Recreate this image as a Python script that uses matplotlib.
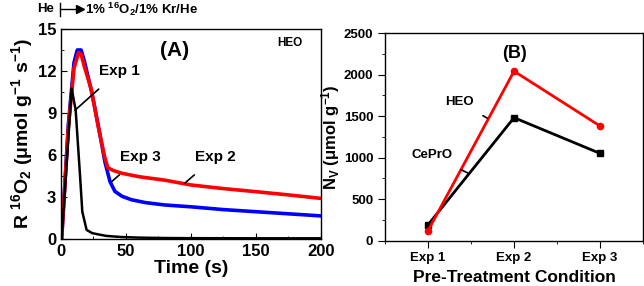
import matplotlib
matplotlib.use("Agg")
import matplotlib.pyplot as plt
from matplotlib.lines import Line2D
from matplotlib.ticker import MultipleLocator

plt.rcParams['font.family'] = ['Liberation Sans', 'DejaVu Sans']
plt.rcParams['font.weight'] = 'bold'
plt.rcParams['axes.labelweight'] = 'bold'
plt.rcParams['mathtext.fontset'] = 'custom'
plt.rcParams['mathtext.rm'] = 'Liberation Sans:bold'
plt.rcParams['mathtext.bf'] = 'Liberation Sans:bold'
plt.rcParams['mathtext.it'] = 'Liberation Sans:bold'
plt.rcParams['mathtext.default'] = 'rm'

# panel A: transient O2 uptake rate
t_exp1 = [0, 0.5, 8.2, 11.3, 14.6, 16.4, 19.7, 24, 28.7, 35, 46.7, 60, 80, 100, 150, 200]
r_exp1 = [0, 0, 10.75, 9.2, 4.6, 1.95, 0.65, 0.42, 0.33, 0.22, 0.14, 0.1, 0.07, 0.06, 0.05, 0.05]

t_exp2 = [0, 0.5, 5.6, 10, 13.5, 15.5, 18, 23.3, 28.5, 33.5, 36, 40, 46.7, 60, 80, 100, 125, 150, 175, 200]
r_exp2 = [0, 0, 7.9, 12.2, 13.3, 13.2, 12.3, 10.7, 8.1, 5.9, 5.1, 4.9, 4.7, 4.45, 4.2, 3.86, 3.6, 3.38, 3.15, 2.9]

t_exp3 = [0, 0.5, 5.6, 10, 12.5, 15.5, 18, 23.6, 28.7, 33.8, 37.7, 41.5, 47, 54.4, 65, 80, 100, 125, 150, 175, 200]
r_exp3 = [0, 0, 8.1, 12.6, 13.5, 13.5, 12.7, 10.5, 8.1, 5.5, 4.1, 3.4, 3.05, 2.8, 2.6, 2.43, 2.3, 2.1, 1.95, 1.8, 1.65]

# panel B: vacancy counts
conditions = ['Exp 1', 'Exp 2', 'Exp 3']
nv_heo = [120, 2040, 1380]
nv_ceprO = [190, 1480, 1050]

fig = plt.figure(figsize=(6.44, 2.86), dpi=100)
ax1 = fig.add_axes([0.0947, 0.1643, 0.4037, 0.7343])
ax2 = fig.add_axes([0.598, 0.159, 0.4004, 0.7256])

# --- panel A
ax1.plot(t_exp3, r_exp3, color='#0000ff', lw=2.6)
ax1.plot(t_exp2, r_exp2, color='#ff0000', lw=2.6)
ax1.plot(t_exp1, r_exp1, color='black', lw=1.8)
ax1.set_xlim(0, 200)
ax1.set_ylim(0, 15)
ax1.xaxis.set_major_locator(MultipleLocator(50))
ax1.xaxis.set_minor_locator(MultipleLocator(25))
ax1.yaxis.set_major_locator(MultipleLocator(3))
ax1.yaxis.set_minor_locator(MultipleLocator(1.5))
ax1.tick_params(which='both', direction='in', labelsize=12)
ax1.tick_params(which='major', length=4)
ax1.tick_params(which='minor', length=2)
ax1.set_xlabel('Time (s)', fontsize=14, labelpad=1)
ax1.set_ylabel('R $^{16}$O$_2$ (μmol g$^{-1}$ s$^{-1}$)', fontsize=14, labelpad=2)

ax1.text(87.7, 13.5, '(A)', fontsize=15, ha='center', va='center')
ax1.text(176, 14.0, 'HEO', fontsize=8.5, ha='center', va='center')
ax1.annotate('Exp 1', xy=(10.8, 9.2), xytext=(44.6, 12.0), fontsize=11,
             ha='center', va='center', arrowprops=dict(arrowstyle='-', lw=1.2, shrinkA=9, shrinkB=0))
ax1.annotate('Exp 3', xy=(39, 4.1), xytext=(60.8, 5.86), fontsize=11,
             ha='center', va='center', arrowprops=dict(arrowstyle='-', lw=1.2, shrinkA=9, shrinkB=0))
ax1.annotate('Exp 2', xy=(95.4, 4.0), xytext=(118.5, 5.86), fontsize=11,
             ha='center', va='center', arrowprops=dict(arrowstyle='-', lw=1.2, shrinkA=9, shrinkB=0))

# gas switch note above panel A
fig.text(37 / 644, 1 - 9 / 286, 'He', fontsize=9.5, ha='left', va='center')
fig.add_artist(Line2D([60 / 644, 60 / 644], [1 - 3 / 286, 1 - 16 / 286], color='black', lw=1))
fig.add_artist(Line2D([60 / 644, 76 / 644], [1 - 9 / 286, 1 - 9 / 286], color='black', lw=1))
fig.add_artist(Line2D([80 / 644], [1 - 9 / 286], marker='>', color='black', markersize=6, lw=0))
fig.text(85 / 644, 1 - 9 / 286, '1% $^{16}$O$_2$/1% Kr/He', fontsize=9.5, ha='left', va='center')

# --- panel B
x = [1, 2, 3]
ax2.plot(x, nv_ceprO, color='black', lw=2, marker='s', markersize=4.5)
ax2.plot(x, nv_heo, color='#ff0000', lw=2, marker='o', markersize=4.5)
ax2.set_xlim(0.5, 3.5)
ax2.set_ylim(0, 2500)
ax2.set_xticks(x)
ax2.set_xticklabels(conditions)
ax2.xaxis.set_minor_locator(MultipleLocator(0.5))
ax2.yaxis.set_major_locator(MultipleLocator(500))
ax2.yaxis.set_minor_locator(MultipleLocator(250))
ax2.tick_params(which='both', direction='out', labelsize=9.5)
ax2.tick_params(which='major', length=5)
ax2.tick_params(which='minor', length=2.5)
ax2.set_xlabel('Pre-Treatment Condition', fontsize=12.5, labelpad=4)
ax2.set_ylabel('N$_V$ (μmol g$^{-1}$)', fontsize=12, labelpad=1)

ax2.text(2.0, 2250, '(B)', fontsize=13, ha='center', va='center')
ax2.annotate('HEO', xy=(1.69, 1473), xytext=(1.36, 1667), fontsize=9.5,
             ha='center', va='center', arrowprops=dict(arrowstyle='-', lw=1.2, shrinkA=7, shrinkB=0))
ax2.annotate('CePrO', xy=(1.47, 809), xytext=(1.05, 1027), fontsize=9.5,
             ha='center', va='center', arrowprops=dict(arrowstyle='-', lw=1.2, shrinkA=9, shrinkB=0))

for ax in (ax1, ax2):
    for s in ax.spines.values():
        s.set_linewidth(1)

fig.savefig('out.png', dpi=100)
